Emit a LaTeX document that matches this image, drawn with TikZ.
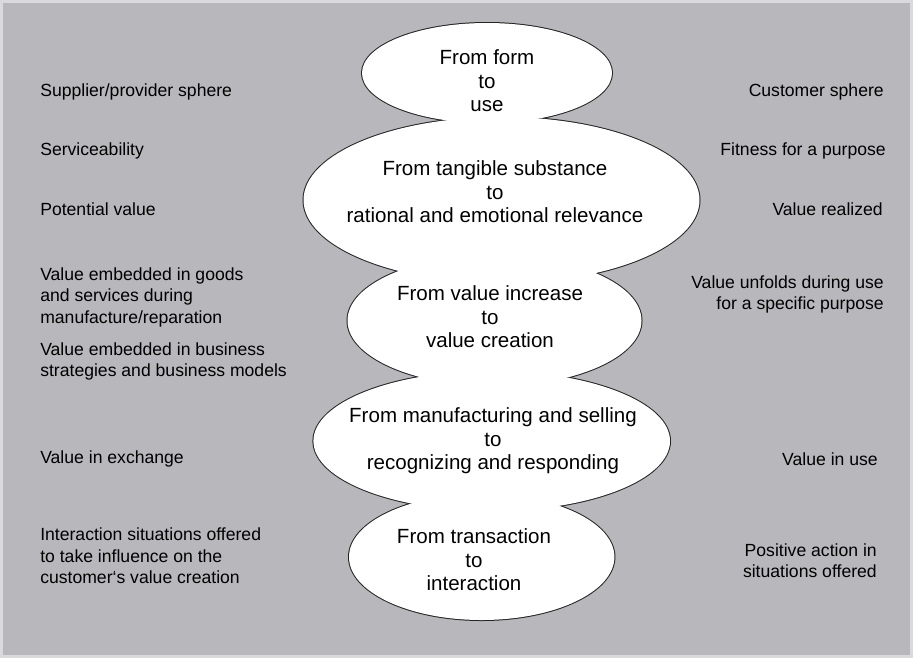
\documentclass[tikz,border=0pt]{standalone}
\usepackage{fontspec}
\setmainfont{Liberation Sans}
\usepackage{tikz}

\definecolor{panel}{RGB}{184,184,188}
\definecolor{rimgray}{RGB}{218,218,220}
\definecolor{edge}{RGB}{35,35,35}

\begin{document}
\begin{tikzpicture}[
  x=0.75pt, y=-0.75pt,
  bubble/.style={draw=edge, line width=1.5pt},
  stage/.style={align=center, inner sep=0pt,
                font=\fontsize{15.4}{17.6}\selectfont},
  lside/.style={anchor=west, align=left, inner sep=0pt,
                font=\fontsize{13.2}{16.1}\selectfont},
  rside/.style={anchor=east, align=right, inner sep=0pt,
                font=\fontsize{13.2}{16.1}\selectfont},
]
  \useasboundingbox (0,0) rectangle (913,658);

  %% Backdrop with light frame
  \fill[rimgray] (0,0) rectangle (913,658);
  \fill[panel] (3,3) rectangle (910,655);

  %% Stacked bubbles: outlines first, then white fill over the seams
  \foreach \cx/\cy/\rx/\ry in {487/73/125/50, 501.5/200/198/83,
      494.5/320.6/147/65.5, 491.7/441/178.3/70, 481.7/557/132.7/63}
    \draw[bubble] (\cx,\cy) ellipse [x radius=\rx, y radius=\ry];
  \foreach \cx/\cy/\rx/\ry in {487/73/125/50, 501.5/200/198/83,
      494.5/320.6/147/65.5, 491.7/441/178.3/70, 481.7/557/132.7/63}
    \fill[white] (\cx,\cy) ellipse [x radius=\rx, y radius=\ry];

  %% Shift stages
  \node[stage] (form) at (487,81) {From form\\to\\use};
  \node[stage] (substance) at (495,192)
    {From tangible substance\\to\\rational and emotional relevance};
  \node[stage] (increase) at (490,317) {From value increase\\to\\value creation};
  \node[stage] (selling) at (493,441)
    {From manufacturing and selling\\to\\recognizing and responding};
  \node[stage] (transaction) at (474,560) {From transaction\\to\\interaction};

  %% Supplier side
  \node[lside] (supplier) at (40,92) {Supplier/provider sphere};
  \node[lside] (service) at (40,151) {Serviceability};
  \node[lside] (potential) at (40,209) {Potential value};
  \node[lside] (goods) at (40,297)
    {Value embedded in goods\\and services during\\manufacture/reparation};
  \node[lside] (models) at (40,361.5)
    {Value embedded in business\\strategies and business models};
  \node[lside] (exchange) at (40,459) {Value in exchange};
  \node[lside] (offered) at (40,556)
    {Interaction situations offered\\to take influence on the\\customer‘s value creation};

  %% Customer side
  \node[rside] (customer) at (884,92) {Customer sphere};
  \node[rside] (fitness) at (886,151) {Fitness for a purpose};
  \node[rside] (realized) at (883,209) {Value realized};
  \node[rside] (unfolds) at (884,294.5)
    {Value unfolds during use\\for a specific purpose};
  \node[rside] (inuse) at (878,459) {Value in use};
  \node[rside] (positive) at (877,560.5)
    {Positive action in\\situations offered};
\end{tikzpicture}
\end{document}
